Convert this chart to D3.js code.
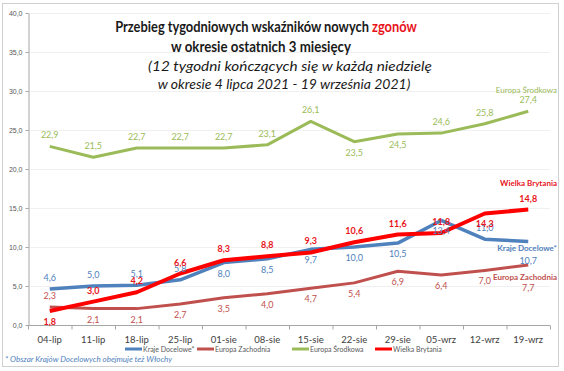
<!DOCTYPE html>
<html><head><meta charset="utf-8">
<script src="https://cdn.jsdelivr.net/npm/d3@7"></script>
<style>
body{margin:0;background:#fff;}
svg{display:block;font-family:Lato, "Open Sans", sans-serif;}
</style></head>
<body>
<svg id="c" width="564" height="371"></svg>
<script>
const categories = ["04-lip","11-lip","18-lip","25-lip","01-sie","08-sie","15-sie","22-sie","29-sie","05-wrz","12-wrz","19-wrz"];
const krajeDocelowe = [4.6,5.0,5.1,5.8,8.0,8.5,9.7,10.0,10.5,13.4,11.0,10.7];
const europaZachodnia = [2.3,2.1,2.1,2.7,3.5,4.0,4.7,5.4,6.9,6.4,7.0,7.7];
const europaSrodkowa = [22.9,21.5,22.7,22.7,22.7,23.1,26.1,23.5,24.5,24.6,25.8,27.4];
const wielkaBrytania = [1.8,3.0,4.2,6.6,8.3,8.8,9.3,10.6,11.6,11.8,14.3,14.8];
const yTicks = [0,5,10,15,20,25,30,35,40];
const seriesNames = ["Kraje Docelowe*","Europa Zachodnia","Europa Środkowa","Wielka Brytania"];

// label placement: 1 = above, -1 = below
const labelSide = {
  "Kraje Docelowe*": [1,1,1,1,-1,-1,-1,-1,-1,-1,1,-1],
  "Europa Zachodnia": [1,-1,-1,-1,-1,-1,-1,-1,-1,-1,-1,-1],
  "Europa Środkowa": [1,1,1,1,1,1,1,-1,-1,1,1,1],
  "Wielka Brytania": [-1,1,1,1,1,1,1,1,1,1,-1,1]
};

const svg = d3.select("#c");
svg.append("rect").attr("x",2.5).attr("y",3.5).attr("width",556).attr("height",363)
  .attr("fill","#fff").attr("stroke","#d0d0d0").attr("stroke-width",1);

const x = d3.scaleBand().domain(categories).range([28,550]).padding(0);
const y = d3.scaleLinear().domain([0,40]).range([325,13]);
const cx = d => x(d) + x.bandwidth()/2;

// gridlines
svg.append("g").selectAll("line").data(yTicks.slice(1)).join("line")
  .attr("x1",28).attr("x2",550).attr("y1",d=>y(d)+0.5).attr("y2",d=>y(d)+0.5)
  .attr("stroke","#f0f0f0").attr("stroke-width",1);

// y axis
const fmt = d => d3.format(".1f")(d).replace(".",",");
const yAxis = d3.axisLeft(y).tickValues(yTicks).tickFormat(fmt).tickSize(3).tickSizeOuter(0);
const ya = svg.append("g").attr("transform","translate(28.5,0)").call(yAxis);
ya.select(".domain").attr("stroke","#a6a6a6");
ya.selectAll(".tick line").attr("stroke","#a6a6a6");
ya.selectAll("text").attr("font-size",7).attr("fill","#595959").attr("x",-6);

// x axis
const xa = svg.append("g").attr("transform","translate(0,325.5)");
xa.append("line").attr("x1",28).attr("x2",550).attr("stroke","#a6a6a6");
xa.selectAll("line.t").data(categories.concat(["end"])).join("line").attr("class","t")
  .attr("x1",(d,i)=>28+i*x.bandwidth()+0.5).attr("x2",(d,i)=>28+i*x.bandwidth()+0.5)
  .attr("y1",0).attr("y2",4).attr("stroke","#a6a6a6");
xa.selectAll("text").data(categories).join("text")
  .attr("x",d=>cx(d)).attr("y",17).attr("text-anchor","middle")
  .attr("font-size",9.5).attr("fill","#404040").text(d=>d);

// series
const series = [
  {name:"Europa Zachodnia", values:europaZachodnia, color:"#c0504d", lab:"#c0504d", w:3, bold:false},
  {name:"Europa Środkowa", values:europaSrodkowa, color:"#9bbb59", lab:"#9bbb59", w:3, bold:false},
  {name:"Kraje Docelowe*", values:krajeDocelowe, color:"#4f81bd", lab:"#4f81bd", w:3.5, bold:false},
  {name:"Wielka Brytania", values:wielkaBrytania, color:"#ff0000", lab:"#e8141b", w:4, bold:true}
];
const line = d3.line().x((d,i)=>cx(categories[i])).y(d=>y(d));
series.forEach(s=>{
  svg.append("path").datum(s.values).attr("d",line).attr("fill","none")
    .attr("stroke",s.color).attr("stroke-width",s.w).attr("stroke-linejoin","round");
});
series.forEach(s=>{
  const side = labelSide[s.name];
  svg.append("g").selectAll("text").data(s.values).join("text")
    .attr("x",(d,i)=>cx(categories[i]))
    .attr("y",(d,i)=>{
      let off = side[i]===1 ? -8 : 14;
      if (s.name==="Europa Zachodnia" && i===11) off = 26;
      if (s.name==="Kraje Docelowe*" && i===11) off = 22;
      return y(d)+off;
    })
    .attr("text-anchor","middle").attr("font-size",9)
    .attr("font-weight",s.bold?"bold":"normal")
    .attr("fill",s.lab).text(d=>fmt(d));
});

// series end labels
const endLabels = [
  {t:"Europa Środkowa", y:93, c:"#9bbb59", b:false},
  {t:"Wielka Brytania", y:186, c:"#e8141b", b:true},
  {t:"Kraje Docelowe*", y:251, c:"#4f81bd", b:true},
  {t:"Europa Zachodnia", y:280, c:"#c0504d", b:true}
];
svg.append("g").selectAll("text").data(endLabels).join("text")
  .attr("x",557).attr("y",d=>d.y).attr("text-anchor","end").attr("font-size",8)
  .attr("font-weight",d=>d.b?"bold":"normal").attr("fill",d=>d.c).text(d=>d.t);

// title: horizontally scaled to the reference widths
function fitText(sel, cxp, cyp, targetW){
  const len = sel.node().getComputedTextLength();
  const k = targetW/len;
  sel.attr("x",0).attr("y",0).attr("transform",`translate(${cxp},${cyp}) scale(${k},1)`);
}
const t1 = svg.append("text").attr("text-anchor","middle")
  .attr("font-size",14.5).attr("font-weight","bold").attr("fill","#1a1a1a");
t1.append("tspan").text("Przebieg tygodniowych wskaźników nowych ");
t1.append("tspan").attr("fill","#e8141b").text("zgonów");
fitText(t1,266,32,302);
const t2 = svg.append("text").attr("text-anchor","middle")
  .attr("font-size",14.5).attr("font-weight","bold").attr("fill","#1a1a1a")
  .text("w okresie ostatnich 3 miesięcy");
fitText(t2,261,52,180);
const t3 = svg.append("text").attr("text-anchor","middle")
  .attr("font-size",13.5).attr("font-style","italic").attr("fill","#1a1a1a")
  .text("(12 tygodni kończących się w każdą niedzielę");
fitText(t3,290,71,284);
const t4 = svg.append("text").attr("text-anchor","middle")
  .attr("font-size",13.5).attr("font-style","italic").attr("fill","#1a1a1a")
  .text("w okresie 4 lipca 2021 - 19 września 2021)");
fitText(t4,284,89,253);

// legend
const legX = [125,197,292,375];
const lcolors = {"Kraje Docelowe*":"#4f81bd","Europa Zachodnia":"#c0504d","Europa Środkowa":"#9bbb59","Wielka Brytania":"#ff0000"};
const lg = svg.append("g").selectAll("g").data(seriesNames).join("g")
  .attr("transform",(d,i)=>`translate(${legX[i]},349)`);
lg.append("line").attr("x1",0).attr("x2",17).attr("stroke",d=>lcolors[d]).attr("stroke-width",3);
lg.append("text").attr("x",18).attr("y",2.5).attr("font-size",7).attr("fill","#595959").text(d=>d);

// footnote
svg.append("text").attr("x",5).attr("y",362).attr("font-size",8).attr("font-style","italic")
  .attr("fill","#4f81bd").text("* Obszar Krajów Docelowych obejmuje też Włochy");
</script>
</body></html>
